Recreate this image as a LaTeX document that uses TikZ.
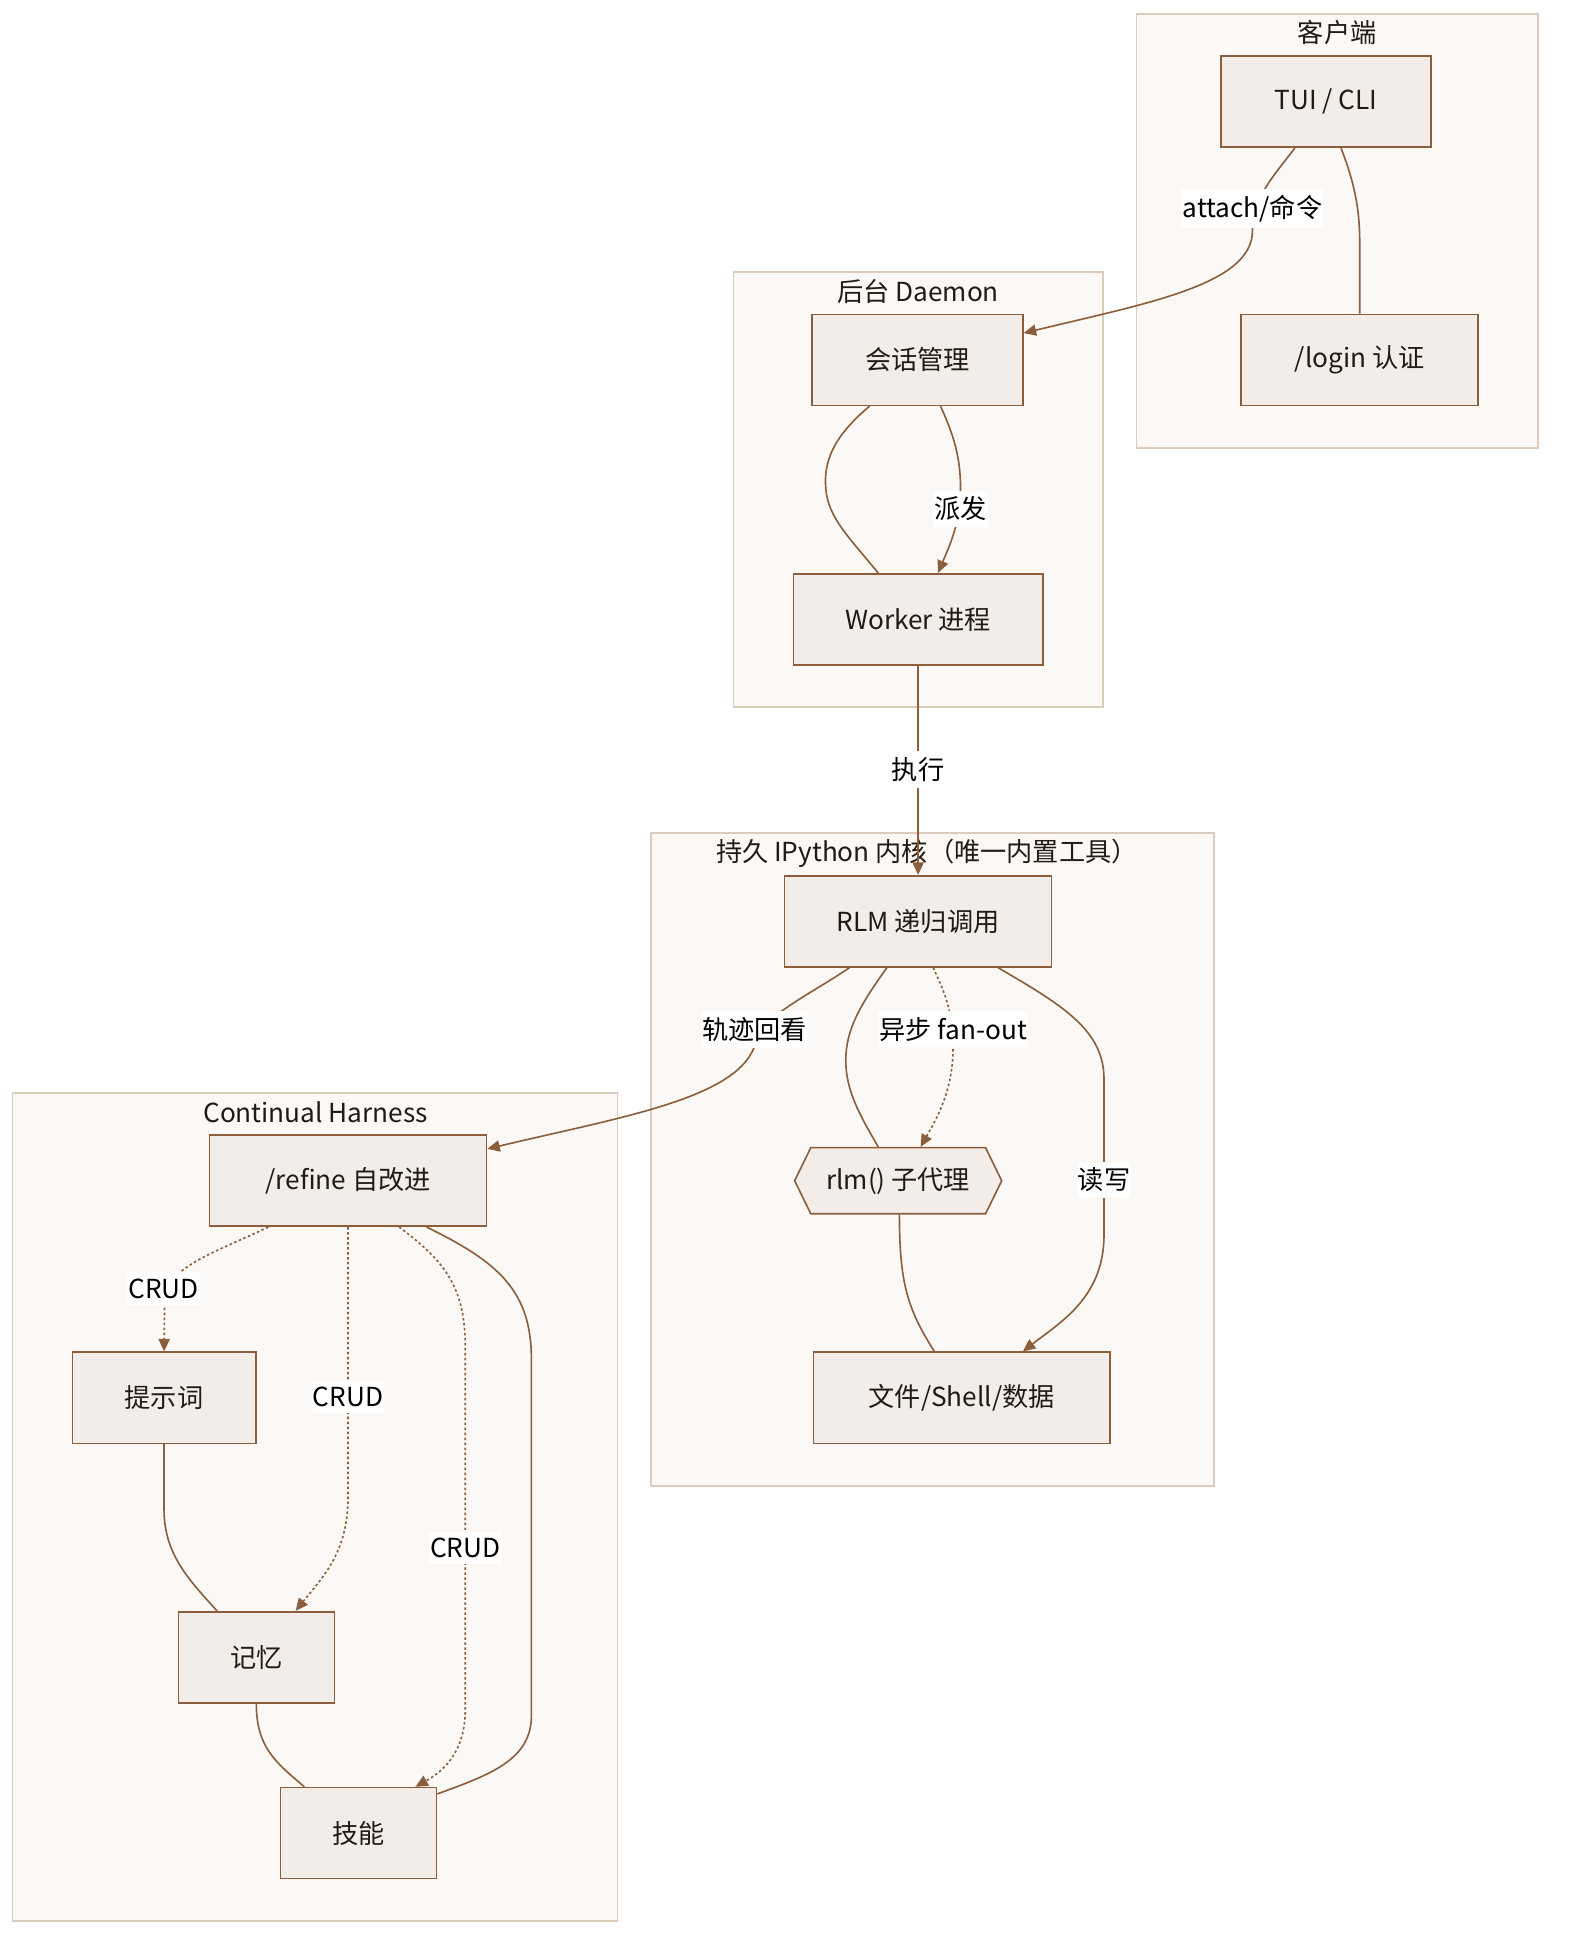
\documentclass[tikz,border=0pt]{standalone}
\usepackage{fontspec}
\setmainfont{Noto Sans CJK SC}
\usetikzlibrary{arrows.meta,shapes.symbols}
\definecolor{edgec}{HTML}{8C5E3C}
\definecolor{nodefill}{HTML}{F2EDE8}
\definecolor{clfill}{HTML}{FBF8F5}
\definecolor{cldraw}{HTML}{DDCBBB}
\definecolor{txt}{HTML}{231A14}
\tikzset{
  box/.style={draw=edgec, fill=nodefill, line width=1.3pt, inner sep=0pt, text=txt,
    font=\fontsize{21}{25}\selectfont, anchor=center},
  hexa/.style={box, signal, signal to=west and east, signal pointer angle=128},
  cluster/.style={draw=cldraw, fill=clfill, line width=1.5pt},
  cltitle/.style={text=txt, font=\fontsize{21}{25}\selectfont, inner sep=0pt},
  elabel/.style={fill=white, text=black, font=\fontsize{21}{25}\selectfont, inner xsep=1pt, inner ysep=5pt},
  conn/.style={draw=edgec, line width=1.3pt},
  arr/.style={conn, -{Triangle[length=10pt,width=9pt]}},
  dotarr/.style={arr, dash pattern=on 2pt off 2pt},
}
\begin{document}
\begin{tikzpicture}[x=1pt,y=-1pt]
\useasboundingbox (0,0) rectangle (1257,1568);
\fill[white] (0,0) rectangle (1257,1568);
% clusters
\draw[cluster] (911,11) rectangle (1233,359);
\node[cltitle] (tclient) at (1072,26) {客户端};
\draw[cluster] (588,218) rectangle (884,567);
\node[cltitle] (tdaemon) at (736,234) {后台 Daemon};
\draw[cluster] (522,668) rectangle (973,1191);
\node[cltitle] (tkernel) at (743,684) {持久 IPython 内核（唯一内置工具）};
\draw[cluster] (10,876) rectangle (495,1540);
\node[cltitle] (tharness) at (253,892) {Continual Harness};
% nodes
\node[box, minimum width=168pt, minimum height=73pt] (tui) at (1063,81.5) {TUI / CLI};
\node[box, minimum width=190pt, minimum height=73pt] (login) at (1090,288.5) {/login 认证};
\node[box, minimum width=169pt, minimum height=73pt] (sess) at (735.5,288.5) {会话管理};
\node[box, minimum width=200pt, minimum height=73pt] (worker) at (736,496.5) {Worker 进程};
\node[box, minimum width=214pt, minimum height=73pt] (rlmc) at (736,738.5) {RLM 递归调用};
\node[hexa, minimum width=166pt, minimum height=53pt] (sub) at (720,946.5) {rlm() 子代理};
\node[box, minimum width=238pt, minimum height=73pt] (files) at (771,1120.5) {文件/Shell/数据};
\node[box, minimum width=222pt, minimum height=73pt] (refine) at (279,946.5) {/refine 自改进};
\node[box, minimum width=147pt, minimum height=73pt] (prompt) at (131.5,1120.5) {提示词};
\node[box, minimum width=125pt, minimum height=73pt] (mem) at (205.5,1328.5) {记忆};
\node[box, minimum width=125pt, minimum height=73pt] (skill) at (287.5,1469.5) {技能};
% edges
\draw[arr] ([xshift=-25pt]tui.south) .. controls (1022,140) and (1004,158) .. (1004,185)
  .. controls (1004,228) and (920,243) .. ([yshift=21.5pt]sess.east);
\draw[conn] ([xshift=12pt]tui.south) .. controls (1085,145) and (1090,165) .. (1090,195) -- (login.north);
\draw[conn] ([xshift=-38.5pt]sess.south) .. controls (668,350) and (660,370) .. (662,392)
  .. controls (664,415) and (680,430) .. ([xshift=-32pt]worker.north);
\draw[arr] ([xshift=18.5pt]sess.south) .. controls (764,348) and (770,365) .. (770,392)
  .. controls (770,420) and (760,440) .. ([xshift=16pt]worker.north);
\draw[arr] (worker.south) -- (rlmc.north);
\draw[arr] ([xshift=-55pt]rlmc.south) .. controls (650,797) and (610,815) .. (606,835)
  .. controls (595,880) and (500,895) .. ([yshift=25.5pt]refine.east);
\draw[conn] ([xshift=-25pt]rlmc.south) .. controls (690,805) and (678,825) .. (678,850)
  .. controls (678,875) and (690,895) .. ([xshift=-16pt]sub.north);
\draw[dotarr] ([xshift=12pt]rlmc.south) .. controls (757,795) and (764,810) .. (764,840)
  .. controls (764,875) and (750,898) .. ([xshift=18pt]sub.north);
\draw[arr] ([xshift=64pt]rlmc.south) .. controls (850,805) and (885,825) .. (885,865) -- (885,990)
  .. controls (885,1040) and (850,1060) .. ([xshift=49pt]files.north);
\draw[conn] ([xshift=1pt]sub.south) .. controls (721,1030) and (728,1050) .. ([xshift=-22pt]files.north);
\draw[dotarr] ([xshift=-64pt]refine.south) .. controls (175,1003) and (135,1015) .. (132,1040) -- (prompt.north);
\draw[dotarr] (refine.south) -- (279,1200) .. controls (279,1245) and (258,1265) .. ([xshift=31.5pt]mem.north);
\draw[dotarr] ([xshift=41pt]refine.south) .. controls (355,1010) and (373,1030) .. (373,1080) -- (373,1370)
  .. controls (373,1405) and (355,1420) .. ([xshift=45.5pt]skill.north);
\draw[conn] ([xshift=63pt]refine.south) .. controls (400,1012) and (426,1035) .. (426,1090) -- (426,1375)
  .. controls (426,1410) and (395,1422) .. ([yshift=31.5pt]skill.east);
\draw[conn] (prompt.south) -- (131.5,1210) .. controls (131.5,1245) and (150,1265) .. ([xshift=-31.5pt]mem.north);
\draw[conn] (mem.south) .. controls (205.5,1400) and (220,1412) .. ([xshift=-43.5pt]skill.north);
% edge labels
\node[elabel] (lattach) at (1004,167) {attach/命令};
\node[elabel] (lpaifa) at (770,408) {派发};
\node[elabel] (lexec) at (736,617) {执行};
\node[elabel] (ltraj) at (605,825) {轨迹回看};
\node[elabel] (lfan) at (764,825) {异步 fan-out};
\node[elabel] (lrw) at (885,946) {读写};
\node[elabel] (lcrud1) at (131,1033) {CRUD};
\node[elabel] (lcrud2) at (279,1120) {CRUD};
\node[elabel] (lcrud3) at (373,1241) {CRUD};
\end{tikzpicture}
\end{document}
